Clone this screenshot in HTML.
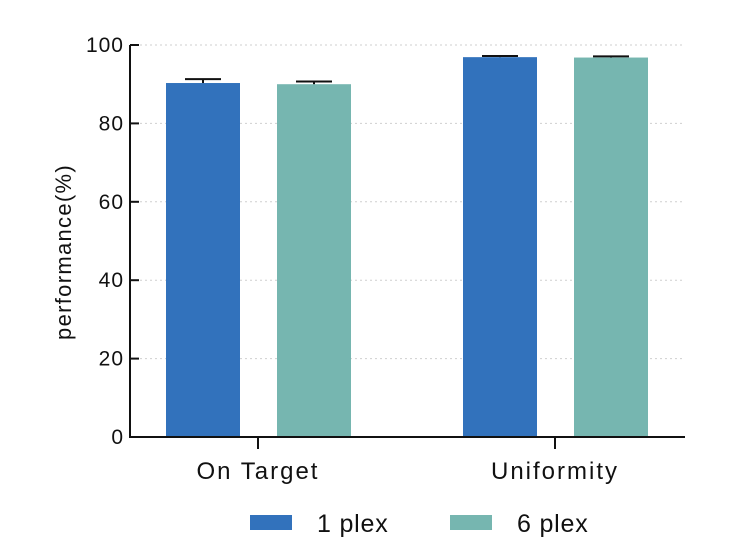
<!DOCTYPE html>
<html><head><meta charset="utf-8"><style>
html,body{margin:0;padding:0;background:#fff;}
svg{display:block;font-family:"Liberation Sans",sans-serif;}
</style></head><body>
<svg id="chart" width="734" height="544"></svg>
<script>
const categories=["On Target","Uniformity"];
const seriesNames=["1 plex","6 plex"];
const plex1Values=[90.3,96.9];
const plex6Values=[90.0,96.8];
const plex1Errors=[1.0,0.3];
const plex6Errors=[0.7,0.3];
const yTicks=[0,20,40,60,80,100];
const colors=["#3272bc","#76b6b0"];
const NS="http://www.w3.org/2000/svg";
const svg=document.getElementById("chart");
const x0=130,x1=685,yBase=437,yTop=45;
const y=v=>yBase-(v/100)*(yBase-yTop);
const catCenters=[258,555];
const barW=74, offsets=[-55,56];
function mk(tag,attrs,parent){const e=document.createElementNS(NS,tag);for(const k in attrs)e.setAttribute(k,attrs[k]);(parent||svg).appendChild(e);return e;}
yTicks.forEach((t,i)=>{
  if(t>0){const g=mk("line",{x1:140,x2:x1,y1:y(t),y2:y(t),stroke:"#cfcfcf","stroke-width":1,"stroke-dasharray":"2,3"});
  
  }
  const tk=mk("line",{x1:x0,x2:x0+9,y1:y(t),y2:y(t),stroke:"#111","stroke-width":2});
  
  
  const tl=mk("text",{x:x0-6,y:y(t)+7,"text-anchor":"end","font-size":21,"letter-spacing":1,fill:"#111"});
  tl.textContent=t;
  
  
});
[plex1Values,plex6Values].forEach((vals,s)=>{
  const errs=s===0?plex1Errors:plex6Errors;
  vals.forEach((v,c)=>{
    const cx=catCenters[c]+offsets[s];
    const r=mk("rect",{x:cx-barW/2,y:y(v),width:barW,height:yBase-y(v),fill:colors[s]});
    
    
    const e1=mk("line",{x1:cx,x2:cx,y1:y(v),y2:y(v+errs[c]),stroke:"#111","stroke-width":2});
    
    
    const e2=mk("line",{x1:cx-18,x2:cx+18,y1:y(v+errs[c]),y2:y(v+errs[c]),stroke:"#111","stroke-width":2});
    
    
  });
});
const ya=mk("line",{x1:x0,x2:x0,y1:yTop,y2:yBase+1,stroke:"#111","stroke-width":2});


const xa=mk("line",{x1:x0-1,x2:x1,y1:yBase,y2:yBase,stroke:"#111","stroke-width":2});


categories.forEach((c,i)=>{
  const t=mk("line",{x1:catCenters[i],x2:catCenters[i],y1:yBase,y2:yBase+12,stroke:"#111","stroke-width":2});
  
  
  const l=mk("text",{x:catCenters[i],y:479,"text-anchor":"middle","font-size":24,"letter-spacing":2,fill:"#111"});
  l.textContent=c;
  
  
});
const yt=mk("text",{x:0,y:0,"text-anchor":"middle","font-size":22,"letter-spacing":1.3,fill:"#111",transform:"translate(71,252) rotate(-90)"});
yt.textContent="performance(%)";


const legX=[250,450];
seriesNames.forEach((n,i)=>{
  const r=mk("rect",{x:legX[i],y:515,width:42,height:15,fill:colors[i]});
  
  
  const t=mk("text",{x:legX[i]+67,y:532,"font-size":25,"letter-spacing":0.8,fill:"#111"});
  t.textContent=n;
  
  
});
</script>
</body></html>
